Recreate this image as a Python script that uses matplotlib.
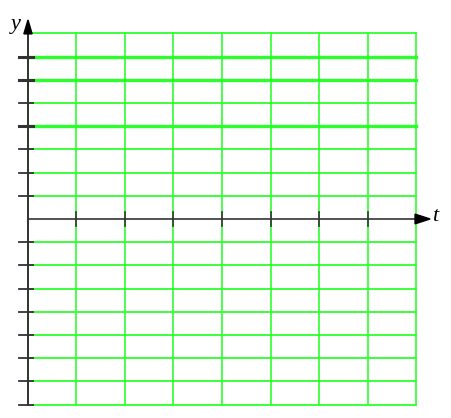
import numpy as np
import matplotlib
matplotlib.use("Agg")
import matplotlib.pyplot as plt

# grid cells: columns along t, rows along y
t_lines = [0, 1, 2, 3, 4, 5, 6, 7, 8]
y_lines = [-8, -7, -6, -5, -4, -3, -2, -1, 0, 1, 2, 3, 4, 5, 6, 7, 8]
thick_rows = [4, 6, 7]
t_ticks = [1, 2, 3, 4, 5, 6, 7]
y_ticks = [-8, -7, -6, -5, -4, -3, -2, -1, 1, 2, 3, 4, 5, 6, 7]

GREEN = "#2bff2b"
AXIS = "#333333"


def main() -> None:
    fig = plt.figure(figsize=(4.52, 4.18), dpi=100)
    ax = fig.add_axes([0, 0, 1, 1])
    ax.set_xlim(-0.577, 8.742)
    ax.set_ylim(-8.58, 9.44)
    ax.axis("off")

    # green grid
    for t in t_lines:
        ax.plot([t, t], [-8, 8], color=GREEN, lw=1.2, zorder=1)
    for y in y_lines:
        if y == 0:
            continue
        lw = 2.4 if y in thick_rows else 1.3
        ax.plot([0, 8], [y, y], color=GREEN, lw=lw, zorder=1)

    # axes
    ax.plot([0, 8], [0, 0], color=AXIS, lw=1.2, zorder=3)
    ax.plot([0, 0], [-8, 8], color=AXIS, lw=1.4, zorder=3)
    for t in t_ticks:
        ax.plot([t, t], [-0.3, 0.3], color=AXIS, lw=1.2, zorder=3)
    for y in y_ticks:
        lw = 2.2 if y in thick_rows else 1.3
        ax.plot([-0.18, 0.1], [y, y], color=AXIS, lw=lw, zorder=3)

    # arrow heads
    ax.fill([7.98, 8.29, 7.98], [0.21, 0, -0.21], color="black", zorder=4)
    ax.fill([-0.085, 0, 0.085], [7.98, 8.58, 7.98], color="black", zorder=4)

    ax.text(-0.26, 8.4, "y", fontsize=16, style="italic",
            family="Liberation Serif", ha="center", va="center")
    ax.text(8.39, 0.12, "t", fontsize=16, style="italic",
            family="Liberation Serif", ha="center", va="center")

    fig.savefig("out.png", dpi=100)


if __name__ == "__main__":
    main()
